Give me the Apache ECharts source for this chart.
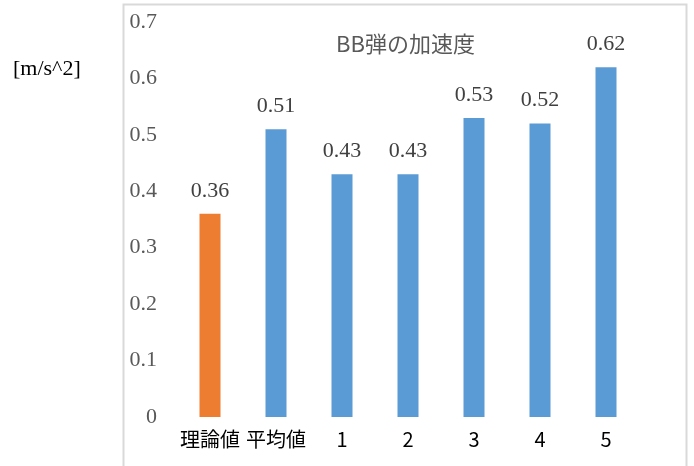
<!DOCTYPE html>
<html>
<head>
<meta charset="utf-8">
<script src="https://cdn.jsdelivr.net/npm/echarts@6/dist/echarts.min.js"></script>
<style>
  html, body { margin: 0; padding: 0; background: #fff; }
  #chart { width: 694px; height: 466px; }
</style>
</head>
<body>
<div id="chart"></div>
<script>
// Categories along the x axis
const categories = ['理論値', '平均値', '1', '2', '3', '4', '5'];
// Acceleration values [m/s^2]
const values = [0.36, 0.51, 0.43, 0.43, 0.53, 0.52, 0.62];
// Value axis ticks
const yMin = 0;
const yMax = 0.7;
const yStep = 0.1;

const ORANGE = '#ED7D31';
const BLUE = '#5B9BD5';
const serif = '"Liberation Serif", "DejaVu Serif", serif';
const sans = '"Noto Sans CJK JP", "Noto Sans", sans-serif';

const chart = echarts.init(document.getElementById('chart'), null, { renderer: 'canvas' });

chart.setOption({
  animation: false,
  backgroundColor: '#ffffff',
  title: {
    text: 'BB弾の加速度',
    left: 331,
    top: 28,
    textStyle: { fontFamily: sans, fontSize: 22, fontWeight: 'normal', color: '#595959' }
  },
  graphic: [
    {
      type: 'rect',
      shape: { x: 123.5, y: 4.5, width: 563, height: 480 },
      style: { fill: null, stroke: '#d9d9d9', lineWidth: 2 },
      silent: true
    },
    {
      type: 'text',
      left: 13,
      top: 58,
      style: { text: '[m/s^2]', font: '22px ' + serif, fill: '#000000' }
    }
  ],
  grid: { left: 177, right: 55, top: 22, bottom: 49, containLabel: false },
  xAxis: {
    type: 'category',
    data: categories,
    axisLine: { show: false },
    axisTick: { show: false },
    axisLabel: { interval: 0, color: '#000000', fontFamily: sans, fontSize: 20, margin: 12 }
  },
  yAxis: {
    type: 'value',
    min: yMin,
    max: yMax,
    interval: yStep,
    axisLine: { show: false },
    axisTick: { show: false },
    splitLine: { show: false },
    axisLabel: {
      color: '#595959',
      fontFamily: serif,
      fontSize: 22,
      margin: 20,
      formatter: v => String(Math.round(v * 10) / 10)
    }
  },
  series: [{
    type: 'bar',
    barWidth: 21,
    data: values.map((v, i) => ({ value: v, itemStyle: { color: i === 0 ? ORANGE : BLUE } })),
    label: {
      show: true,
      position: 'top',
      distance: 12,
      color: '#404040',
      fontFamily: serif,
      fontSize: 22,
      formatter: p => p.value.toFixed(2)
    }
  }]
});
</script>
</body>
</html>
